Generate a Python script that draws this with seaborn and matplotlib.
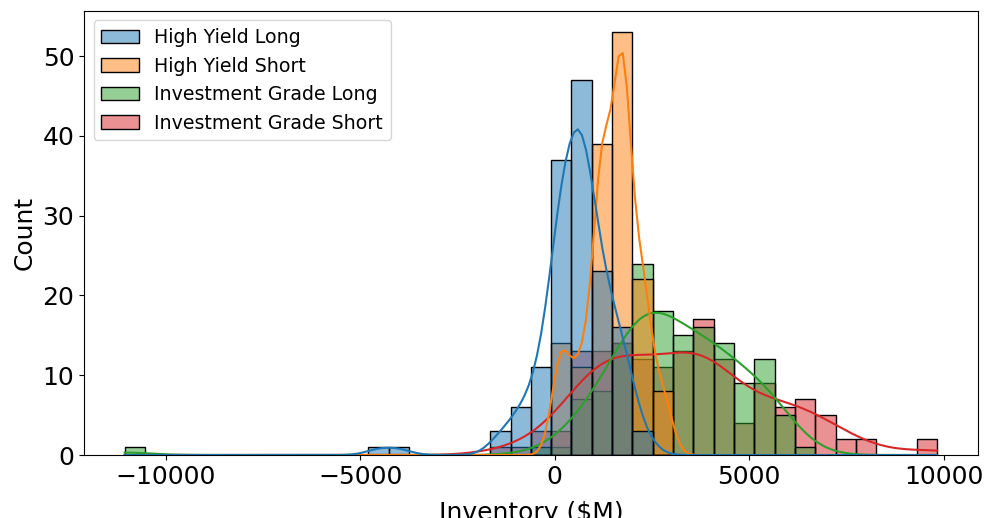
import numpy as np
import pandas as pd
import matplotlib.pyplot as plt
import seaborn as sns

## Données : comptes par classe (40 classes)

lo, hi, nbins = -11056, 9828, 40
groups = ['High Yield Long', 'High Yield Short', 'Investment Grade Long', 'Investment Grade Short']

hy_long = [0]*40
for k, c in {12: 1, 13: 1, 18: 3, 19: 6, 20: 11, 21: 37, 22: 47, 23: 23, 24: 16, 25: 3}.items():
    hy_long[k] = c

hy_short = [0]*40
for k, c in {21: 14, 22: 11, 23: 39, 24: 53, 25: 22, 26: 8}.items():
    hy_short[k] = c

ig_long = [0]*40
for k, c in {0: 1, 20: 1, 21: 1, 22: 7, 23: 8, 24: 14, 25: 24, 26: 18, 27: 15, 28: 16,
             29: 14, 30: 9, 31: 12, 32: 5, 33: 1}.items():
    ig_long[k] = c

ig_short = [0]*40
for k, c in {18: 1, 19: 1, 20: 3, 21: 3, 22: 13, 23: 13, 24: 14, 25: 12, 26: 11, 27: 13,
             28: 17, 29: 12, 30: 4, 31: 9, 32: 6, 33: 7, 34: 5, 35: 2, 36: 2, 39: 2}.items():
    ig_short[k] = c

# centres des classes -> une valeur par observation
edges = np.linspace(lo, hi, nbins + 1)
centres = (edges[:-1] + edges[1:]) / 2
frames = []
for name, counts in zip(groups, [hy_long, hy_short, ig_long, ig_short]):
    vals = np.repeat(centres, counts)
    frames.append(pd.DataFrame({'Inventory': vals, 'Book': name}))
df = pd.concat(frames, ignore_index=True)
# on force les extrêmes pour retrouver les bornes des classes
df.loc[df.Inventory.idxmin(), 'Inventory'] = lo
df.loc[df.Inventory.idxmax(), 'Inventory'] = hi

## Graphique

fig = plt.figure(figsize=(9.86, 5.18), dpi=100)
ax = fig.add_axes([0.0852, 0.1216, 0.9064, 0.8572])
sns.histplot(data=df, x='Inventory', hue='Book', hue_order=groups, bins=nbins,
             binrange=(lo, hi), kde=True, ax=ax)
ax.set_xlabel('Inventory ($M)', fontsize=18, labelpad=9)
ax.set_ylabel('Count', fontsize=18)
ax.tick_params(labelsize=18)
sns.move_legend(ax, 'upper left', title=None, fontsize=13.7)

fig.savefig('out.png', dpi=100)
